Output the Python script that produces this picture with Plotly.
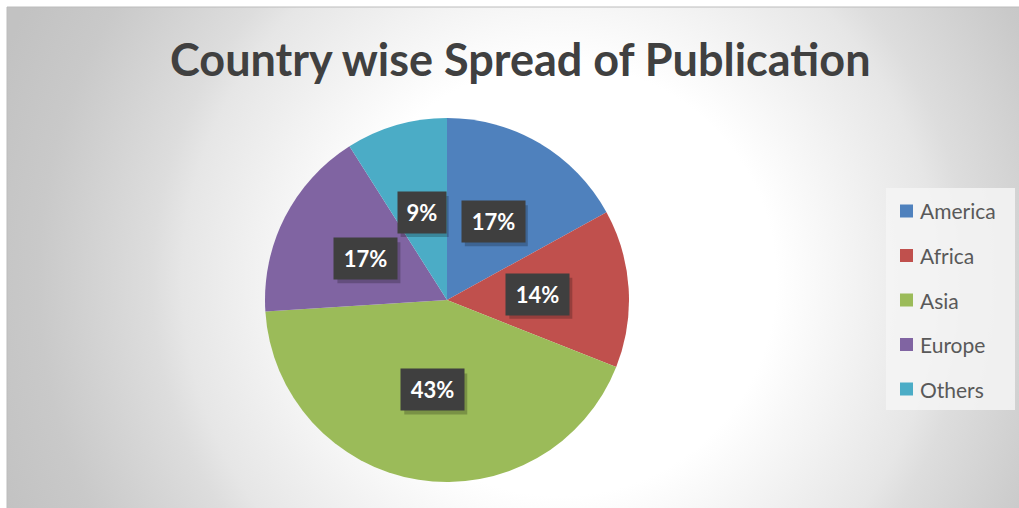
import base64
import math
import plotly.graph_objects as go

# Publication share by region (percent)
regions = ["America", "Africa", "Asia", "Europe", "Others"]
shares = [17, 14, 43, 17, 9]
colors = ["#4F81BD", "#C0504D", "#9BBB59", "#8064A2", "#4BACC6"]
title_text = "Country wise Spread of Publication"

W, H = 1019, 508
FONT = "Lato"

# Pie geometry in pixels
cx_px, cy_px, r_px = 447, 300, 182
dom_x = [(cx_px - r_px) / W, (cx_px + r_px) / W]
dom_y = [1 - (cy_px + r_px) / H, 1 - (cy_px - r_px) / H]

fig = go.Figure()
fig.add_trace(go.Pie(
    labels=regions,
    values=shares,
    marker=dict(colors=colors, line=dict(width=0)),
    sort=False,
    direction="clockwise",
    rotation=0,
    textinfo="none",
    hoverinfo="label+percent",
    showlegend=False,
    domain=dict(x=dom_x, y=dom_y),
))

# Chart area background: radial grey gradient
svg = f"""<svg xmlns='http://www.w3.org/2000/svg' width='1012' height='501' viewBox='0 0 1012 501'>
<defs><radialGradient id='g' gradientUnits='userSpaceOnUse' cx='553' cy='273' r='600'>
<stop offset='0' stop-color='#ffffff'/>
<stop offset='0.36' stop-color='#ffffff'/>
<stop offset='0.63' stop-color='#e6e6e6'/>
<stop offset='0.68' stop-color='#dddddd'/>
<stop offset='0.87' stop-color='#c9c9c9'/>
<stop offset='1' stop-color='#c2c2c2'/>
</radialGradient></defs>
<rect x='0' y='0' width='1012' height='501' fill='url(#g)'/>
</svg>"""
src = "data:image/svg+xml;base64," + base64.b64encode(svg.encode()).decode()

shapes = [
    dict(type="rect", xref="paper", yref="paper",
         x0=7 / W, x1=1.01, y0=-0.01, y1=1 - 7 / H,
         line=dict(color="#bcbcbc", width=1), fillcolor="rgba(0,0,0,0)", layer="above"),
]

annotations = [
    dict(text=f"<b>{title_text}</b>", x=520 / W, y=1 - 59 / H, xref="paper", yref="paper",
         showarrow=False, xanchor="center", yanchor="middle",
         font=dict(family=FONT, size=45, color="#404040")),
]

# Data labels at half radius along each slice's mid-angle, with a soft drop shadow
total = sum(shares)
start = 0.0
for val in shares:
    frac = val / total
    mid = (start + frac / 2) * 2 * math.pi
    start += frac
    lx = cx_px + 0.5 * r_px * math.sin(mid)
    ly = cy_px - 0.5 * r_px * math.cos(mid)
    pct = f"{round(frac * 100)}%"
    bw = 15 * len(pct) + 18
    bh = 41
    sx, sy = lx + 3, ly + 4
    shapes.append(dict(type="rect", xref="paper", yref="paper",
                       x0=(sx - bw / 2) / W, x1=(sx + bw / 2) / W,
                       y0=1 - (sy + bh / 2) / H, y1=1 - (sy - bh / 2) / H,
                       line=dict(width=0), fillcolor="rgba(0,0,0,0.22)", layer="above"))
    annotations.append(dict(text=f"<b>{pct}</b>", x=lx / W, y=1 - ly / H,
                            xref="paper", yref="paper", showarrow=False,
                            xanchor="center", yanchor="middle",
                            width=bw, height=bh, borderpad=0, bgcolor="#3f3f3f",
                            font=dict(family=FONT, size=22, color="#ffffff")))

# Legend box with swatches
shapes.append(dict(type="rect", xref="paper", yref="paper",
                   x0=886 / W, x1=1015 / W, y0=1 - 410 / H, y1=1 - 188 / H,
                   line=dict(width=0), fillcolor="rgba(245,245,245,0.85)", layer="below"))
for i, (name, col) in enumerate(zip(regions, colors)):
    yc = 211 + i * 44.5
    shapes.append(dict(type="rect", xref="paper", yref="paper",
                       x0=900 / W, x1=913 / W, y0=1 - (yc + 6.5) / H, y1=1 - (yc - 6.5) / H,
                       line=dict(width=0), fillcolor=col, layer="above"))
    annotations.append(dict(text=name, x=918 / W, y=1 - yc / H, xref="paper", yref="paper",
                            showarrow=False, xanchor="left", yanchor="middle",
                            font=dict(family=FONT, size=21, color="#595959")))

fig.update_layout(
    width=W, height=H,
    margin=dict(l=0, r=0, t=0, b=0),
    paper_bgcolor="#ffffff",
    plot_bgcolor="rgba(0,0,0,0)",
    images=[dict(source=src, xref="paper", yref="paper", x=7 / W, y=1 - 7 / H,
                 sizex=(W - 7) / W, sizey=(H - 7) / H, sizing="stretch",
                 xanchor="left", yanchor="top", layer="below")],
    shapes=shapes,
    annotations=annotations,
)

fig.write_html("out.html")
